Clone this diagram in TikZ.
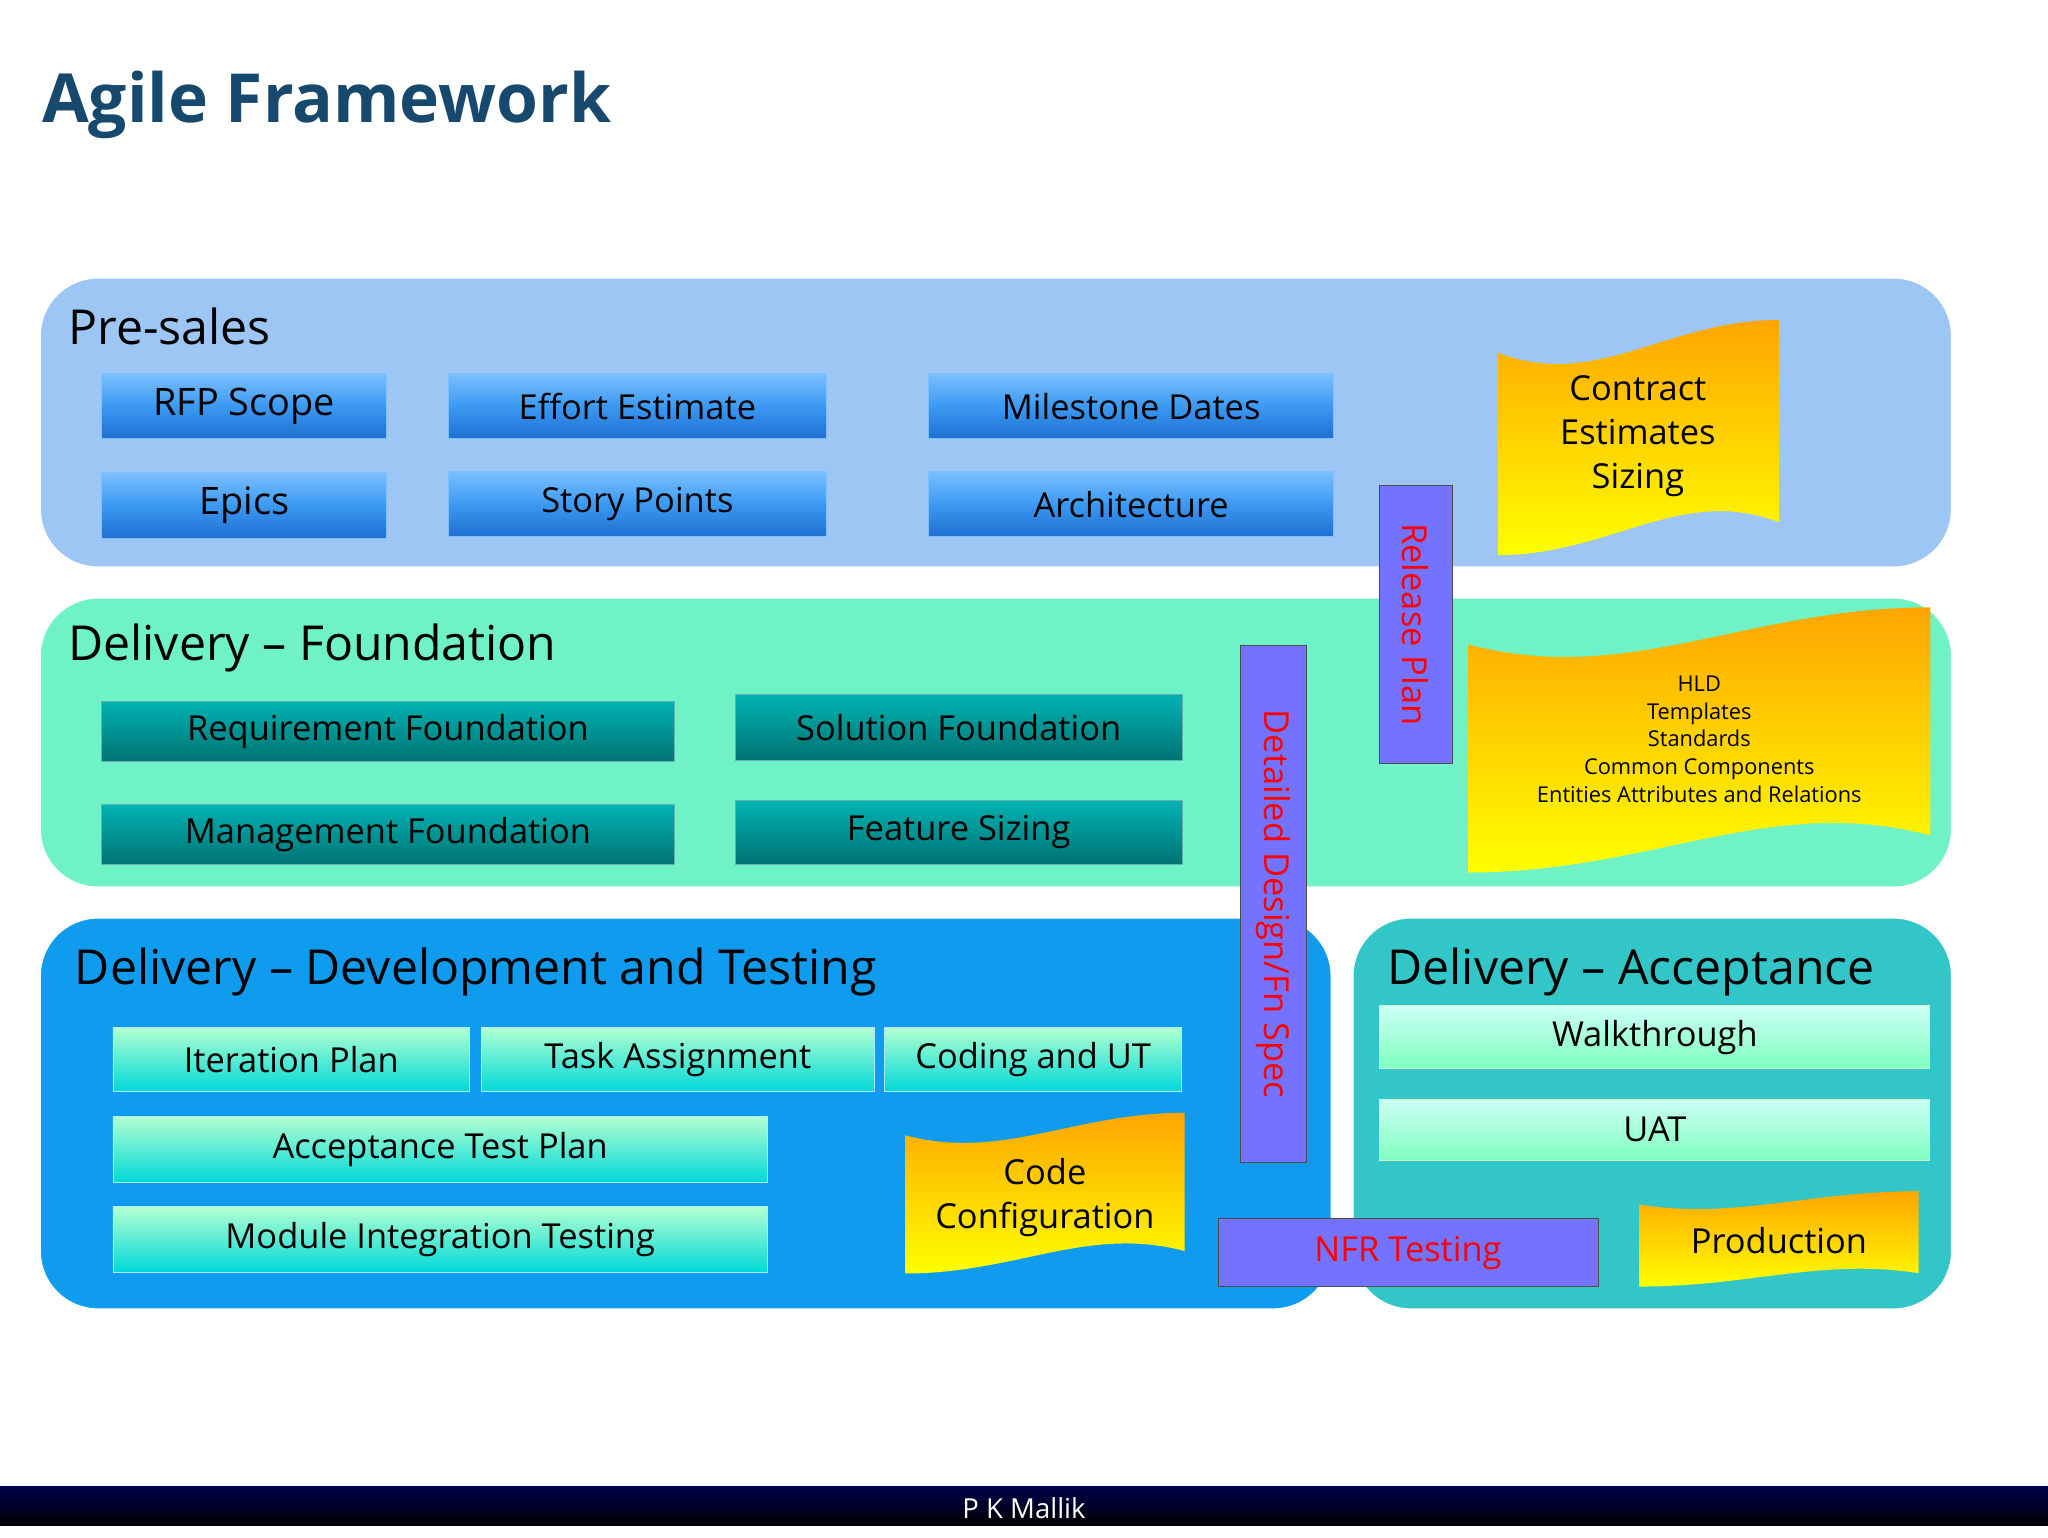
\documentclass[tikz,border=0pt]{standalone}
\usepackage{fontspec}
\setmainfont{Open Sans}
\definecolor{titlec}{HTML}{17496E}
\definecolor{psfill}{HTML}{9DC6F5}
\definecolor{dffill}{HTML}{6EF2C6}
\definecolor{ddfill}{HTML}{109CEE}
\definecolor{dafill}{HTML}{33C6C8}
\definecolor{btop}{HTML}{7CC0FF}
\definecolor{bmid}{HTML}{3B99F2}
\definecolor{bbot}{HTML}{1F6FD0}
\begin{document}
\begin{tikzpicture}[x=0.02cm,y=-0.02cm,
  panel/.style={rounded corners=0.9cm,draw=white,line width=1.5pt},
  bbtn/.style={draw=btop,top color=btop,bottom color=bbot,middle color=bmid,inner sep=0pt,font=\fontsize{15}{17}\selectfont},
  tbtn/.style={draw=teal!60,top color=teal!60!cyan,bottom color=teal!90!black,inner sep=0pt,font=\fontsize{15}{17}\selectfont},
  cbtn/.style={draw=cyan!30,top color=cyan!40!green!30!white,bottom color=cyan!70!teal,inner sep=0pt,font=\fontsize{15}{17}\selectfont},
  mbtn/.style={draw=green!20,top color=green!20!cyan!20!white,bottom color=green!50!cyan!50,inner sep=0pt,font=\fontsize{15}{17}\selectfont},
  vbar/.style={draw=black!70,fill=blue!55!white,text=red,inner sep=0pt,font=\fontsize{15}{17}\selectfont},
  doc/.style={top color=orange!70!yellow,bottom color=yellow,draw=none},
  lbl/.style={anchor=west,inner sep=0pt,font=\fontsize{21}{24}\selectfont}]
\useasboundingbox (0,0) rectangle (1568,1177);
\fill[white] (0,0) rectangle (1568,1177);
\newcommand\wdoc[4]{%
 \path[doc] (#1,{#2+0.14*(#4-#2)}) .. controls ({#1+0.35*(#3-#1)},{#2+0.3*(#4-#2)}) and ({#1+0.6*(#3-#1)},#2) .. (#3,#2)
   -- (#3,{#4-0.14*(#4-#2)}) .. controls ({#3-0.35*(#3-#1)},{#4-0.3*(#4-#2)}) and ({#3-0.6*(#3-#1)},#4) .. (#1,#4) -- cycle;}
\node[anchor=west,text=titlec,font=\bfseries\fontsize{29.5}{33}\selectfont] (title) at (26,80) {Agile Framework};
% panels
\draw[panel,fill=psfill] (30,212) rectangle (1495,435);
\draw[panel,fill=dffill] (30,457) rectangle (1495,680);
\draw[panel,fill=ddfill] (30,702) rectangle (1020,1003);
\draw[panel,fill=dafill] (1035,702) rectangle (1495,1003);
\node[lbl] (ps) at (52,250) {Pre-sales};
\node[lbl] (df) at (52,496) {Delivery – Foundation};
\node[lbl] (dd) at (57,744) {Delivery – Development and Testing};
\node[lbl] (da) at (1062,744) {Delivery – Acceptance};
% pre-sales
\node[bbtn,minimum width=218*0.02cm,minimum height=50*0.02cm,font=\fontsize{16.5}{18}\selectfont] (rfp) at (187,311) {RFP Scope};
\node[bbtn,minimum width=218*0.02cm,minimum height=50*0.02cm,font=\fontsize{16.5}{18}\selectfont] (epics) at (187,387) {Epics};
\node[bbtn,minimum width=289*0.02cm,minimum height=50*0.02cm] (eff) at (488,311) {Effort Estimate};
\node[bbtn,minimum width=289*0.02cm,minimum height=50*0.02cm] (sp) at (488,386) {Story Points};
\node[bbtn,minimum width=310*0.02cm,minimum height=50*0.02cm] (ms) at (866,311) {Milestone Dates};
\node[bbtn,minimum width=310*0.02cm,minimum height=50*0.02cm] (arch) at (866,386) {Architecture};
\wdoc{1147}{245}{1362}{425}
\node[align=center,font=\fontsize{15}{19}\selectfont] (contract) at (1254,334) {Contract\\Estimates\\Sizing};
% foundation
\node[tbtn,minimum width=438*0.02cm,minimum height=46*0.02cm] (req) at (297,560) {Requirement Foundation};
\node[tbtn,minimum width=438*0.02cm,minimum height=46*0.02cm] (mgmt) at (297,639) {Management Foundation};
\node[tbtn,minimum width=342*0.02cm,minimum height=50*0.02cm] (sol) at (734,557) {Solution Foundation};
\node[tbtn,minimum width=342*0.02cm,minimum height=49*0.02cm] (feat) at (734,637) {Feature Sizing};
\wdoc{1124}{465}{1478}{668}
\node[align=center,font=\fontsize{9.5}{12}\selectfont] (hld) at (1301,566) {HLD\\Templates\\Standards\\Common Components\\Entities Attributes and Relations};
% dev
\node[cbtn,minimum width=273*0.02cm,minimum height=49*0.02cm] (iter) at (223,811) {Iteration Plan};
\node[cbtn,minimum width=301*0.02cm,minimum height=49*0.02cm] (task) at (519,811) {Task Assignment};
\node[cbtn,minimum width=227*0.02cm,minimum height=49*0.02cm] (code) at (791,811) {Coding and UT};
\node[cbtn,minimum width=501*0.02cm,minimum height=50*0.02cm] (atp) at (337,880) {Acceptance Test Plan};
\node[cbtn,minimum width=501*0.02cm,minimum height=50*0.02cm] (mit) at (337,949) {Module Integration Testing};
\wdoc{693}{852}{907}{975}
\node[align=center,font=\fontsize{15}{19}\selectfont] (cc) at (800,917) {Code\\Configuration};
% acceptance
\node[mbtn,minimum width=421*0.02cm,minimum height=48*0.02cm] (walk) at (1267,794) {Walkthrough};
\node[mbtn,minimum width=421*0.02cm,minimum height=47*0.02cm] (uat) at (1267,865) {UAT};
\wdoc{1255}{912}{1469}{985}
\node[font=\fontsize{15}{17}\selectfont] (prod) at (1362,950) {Production};
% bars
\node[vbar,minimum width=213*0.02cm,minimum height=56*0.02cm,rotate=-90] (rel) at (1084,478) {Release Plan};
\node[vbar,minimum width=396*0.02cm,minimum height=50*0.02cm,rotate=-90] (ddfs) at (975,692) {Detailed Design/Fn Spec};
\node[vbar,minimum width=291*0.02cm,minimum height=52*0.02cm] (nfr) at (1078,959) {NFR Testing};
% footer
\fill[top color=blue!30!black,bottom color=black] (0,1138) rectangle (1568,1168);
\node[text=white,font=\fontsize{12}{14}\selectfont] (foot) at (784,1155) {P K Mallik};
\end{tikzpicture}
\end{document}
